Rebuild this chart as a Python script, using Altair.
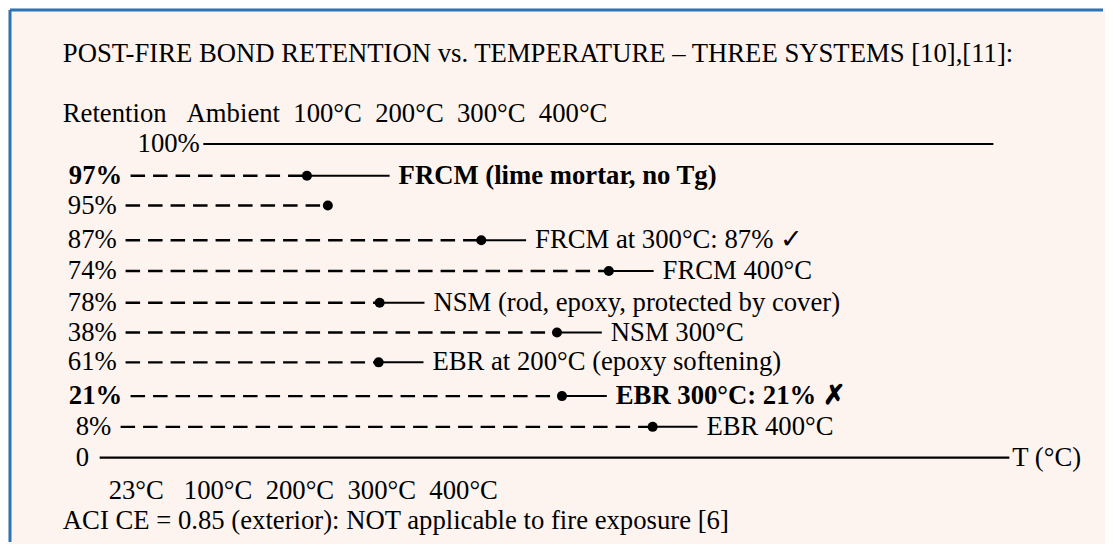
import altair as alt
import pandas as pd

# ---- chart frame (px-like units of the drawing area) ----
W, H = 1097, 536
FONT = "Liberation Serif"
FS = 26.7
NB = "\u00a0"

# ---- data ----
retention_labels = ["97%", "95%", "87%", "74%", "78%", "38%", "61%", "21%", "8%"]
marker_pos = [298, 319, 473, 601, 371, 549, 370, 554, 645]
notes = [
    "FRCM (lime mortar, no Tg)",
    "",
    "FRCM at 300°C: 87% ✓",
    "FRCM 400°C",
    "NSM (rod, epoxy, protected by cover)",
    "NSM 300°C",
    "EBR at 200°C (epoxy softening)",
    "EBR 300°C: 21% ✗",
    "EBR 400°C",
]
bold_rows = [True, False, False, False, False, False, False, True, False]

# ---- layout of the text-art rows ----
row_pos = [167, 197, 232, 263, 295, 325, 355, 389, 420]
label_pos = [59, 58, 58, 58, 58, 58, 58, 59, 66]
dash_start = [121, 116, 116, 116, 116, 116, 116, 121, 111]
connector_len = [83, 0, 45, 45, 45, 45, 45, 45, 45]

df = pd.DataFrame({
    "label": retention_labels,
    "marker": marker_pos,
    "note": notes,
    "bold": bold_rows,
    "row": row_pos,
    "label_x": label_pos,
    "dash_x": dash_start,
    "conn": connector_len,
})
df["conn_end"] = df["marker"] + df["conn"]
df["note_x"] = df["conn_end"] + 9

axis_lines = pd.DataFrame({
    "x": [194, 90],
    "x2": [987, 1003],
    "row": [135, 451],
})

extra_text = pd.DataFrame({
    "text": [
        "POST-FIRE BOND RETENTION vs. TEMPERATURE – THREE SYSTEMS [10],[11]:",
        "Retention" + NB * 3 + "Ambient" + NB * 2 + "100°C" + NB * 2 + "200°C" + NB * 2 + "300°C" + NB * 2 + "400°C",
        "100%",
        "0",
        "T (°C)",
        "23°C" + NB * 3 + "100°C" + NB * 2 + "200°C" + NB * 2 + "300°C" + NB * 2 + "400°C",
        "ACI CE = 0.85 (exterior): NOT applicable to fire exposure [6]",
    ],
    "x": [53, 53, 128, 66, 1006, 99, 53],
    "row": [44, 105, 135, 451, 451, 485, 515],
})

border = pd.DataFrame({"x": [0, 0], "x2": [0, W], "row": [0, 0], "row2": [H, 0]})

xs = alt.Scale(domain=[0, W], nice=False, zero=False)
ys = alt.Scale(domain=[0, H], nice=False, zero=False, reverse=True)

def X(f):
    return alt.X(f, type="quantitative", scale=xs, axis=None)

def Y(f):
    return alt.Y(f, type="quantitative", scale=ys, axis=None)

base = alt.Chart(df)

dashes = base.mark_rule(color="black", strokeWidth=2.4, strokeDash=[14.5, 8]).encode(
    x=X("dash_x"), x2="marker", y=Y("row")
)
connectors = base.transform_filter("datum.conn > 0").mark_rule(color="black", strokeWidth=2).encode(
    x=X("marker"), x2="conn_end", y=Y("row")
)
dots = base.mark_circle(color="black", size=100, opacity=1).encode(x=X("marker"), y=Y("row"))

txt = dict(font=FONT, fontSize=FS, align="left", baseline="middle", color="black")

labels_n = base.transform_filter("!datum.bold").mark_text(**txt).encode(
    x=X("label_x"), y=Y("row"), text="label:N"
)
labels_b = base.transform_filter("datum.bold").mark_text(fontWeight="bold", **txt).encode(
    x=X("label_x"), y=Y("row"), text="label:N"
)
notes_n = base.transform_filter("!datum.bold && datum.note != ''").mark_text(**txt).encode(
    x=X("note_x"), y=Y("row"), text="note:N"
)
notes_b = base.transform_filter("datum.bold").mark_text(fontWeight="bold", **txt).encode(
    x=X("note_x"), y=Y("row"), text="note:N"
)

axes = alt.Chart(axis_lines).mark_rule(color="black", strokeWidth=2.2).encode(
    x=X("x"), x2="x2", y=Y("row")
)
extras = alt.Chart(extra_text).mark_text(**txt).encode(x=X("x"), y=Y("row"), text="text:N")

frame = alt.Chart(border).mark_rule(color="#2E74B5", strokeWidth=3).encode(
    x=X("x"), x2="x2", y=Y("row"), y2="row2"
)

chart = alt.layer(
    frame, axes, dashes, connectors, dots, labels_n, labels_b, notes_n, notes_b, extras
).properties(
    width=W,
    height=H,
    padding=0,
    background="#FDF4F0",
    autosize=alt.AutoSizeParams(type="fit", contains="padding"),
).configure_view(strokeWidth=0)

chart.save("out.html", embed_options={"renderer": "svg", "actions": False})
